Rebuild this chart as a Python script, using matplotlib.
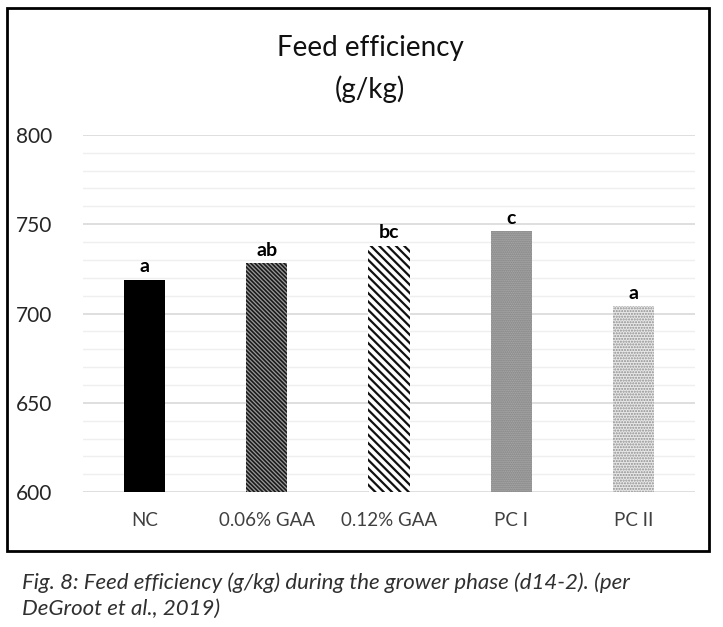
import matplotlib.pyplot as plt
from matplotlib.patches import Rectangle
from matplotlib.ticker import MultipleLocator

plt.rcParams["font.family"] = ["Lato", "DejaVu Sans"]

CATEGORIES = ["NC", "0.06% GAA", "0.12% GAA", "PC I", "PC II"]
VALUES = [719, 728, 738, 746, 704]
LETTERS = ["a", "ab", "bc", "c", "a"]

FACES = ["black", "#9a9a9a", "white", "#b0b0b0", "#e8e8e8"]
HATCHES = [None, "\\\\\\\\\\\\\\\\", "\\\\\\\\", "........", "......"]
HATCH_COLORS = ["black", "#1a1a1a", "#111111", "#7a7a7a", "#8e8e8e"]
HATCH_WIDTHS = [1.0, 1.2, 1.6, 1.0, 1.0]


def main():
    fig = plt.figure(figsize=(7.23, 6.27), dpi=100)
    ax = fig.add_axes([0.115, 0.215, 0.846, 0.57])

    x = range(len(CATEGORIES))
    for xi, v, fc, h, hc, hw in zip(x, VALUES, FACES, HATCHES, HATCH_COLORS,
                                    HATCH_WIDTHS):
        plt.rcParams["hatch.linewidth"] = hw
        bars = ax.bar(xi, v - 600, bottom=600, width=0.34, color=fc, hatch=h,
                      edgecolor=hc, linewidth=0, zorder=3)
        for b in bars:
            if hasattr(b, "set_hatch_linewidth"):
                b.set_hatch_linewidth(hw)
    for xi, v, lab in zip(x, VALUES, LETTERS):
        ax.text(xi, v + 2.5, lab, ha="center", va="bottom", fontsize=14,
                fontweight="bold", zorder=4)

    ax.set_xlim(-0.5, len(CATEGORIES) - 0.5)
    ax.set_ylim(600, 800)
    ax.yaxis.set_major_locator(MultipleLocator(50))
    ax.yaxis.set_minor_locator(MultipleLocator(10))
    ax.grid(axis="y", which="major", color="#d9d9d9", linewidth=1.2, zorder=0)
    ax.grid(axis="y", which="minor", color="#efefef", linewidth=1.0, zorder=0)
    ax.set_xticks(list(x))
    ax.set_xticklabels(CATEGORIES, fontsize=13.5, color="#404040")
    ax.tick_params(axis="y", labelsize=15, colors="#262626", pad=22, length=0,
                   which="both")
    ax.tick_params(axis="x", length=0, pad=14)
    for s in ax.spines.values():
        s.set_visible(False)

    fig.text(0.512, 0.924, "Feed efficiency", ha="center", va="center",
             fontsize=20, color="#111111")
    fig.text(0.512, 0.857, "(g/kg)", ha="center", va="center",
             fontsize=20, color="#111111")

    fig.patches.append(Rectangle((7 / 723, 1 - 551 / 627), 702 / 723, 543 / 627,
                                 transform=fig.transFigure, fill=False,
                                 edgecolor="black", linewidth=2))

    fig.text(22 / 723, 1 - 583 / 627,
             "Fig. 8: Feed efficiency (g/kg) during the grower phase (d14-2). (per",
             ha="left", va="center", fontsize=16, style="italic",
             color="#303030")
    fig.text(22 / 723, 1 - 609 / 627, "DeGroot et al., 2019)",
             ha="left", va="center", fontsize=16, style="italic",
             color="#303030")

    fig.savefig("out.png", dpi=100)


if __name__ == "__main__":
    main()
